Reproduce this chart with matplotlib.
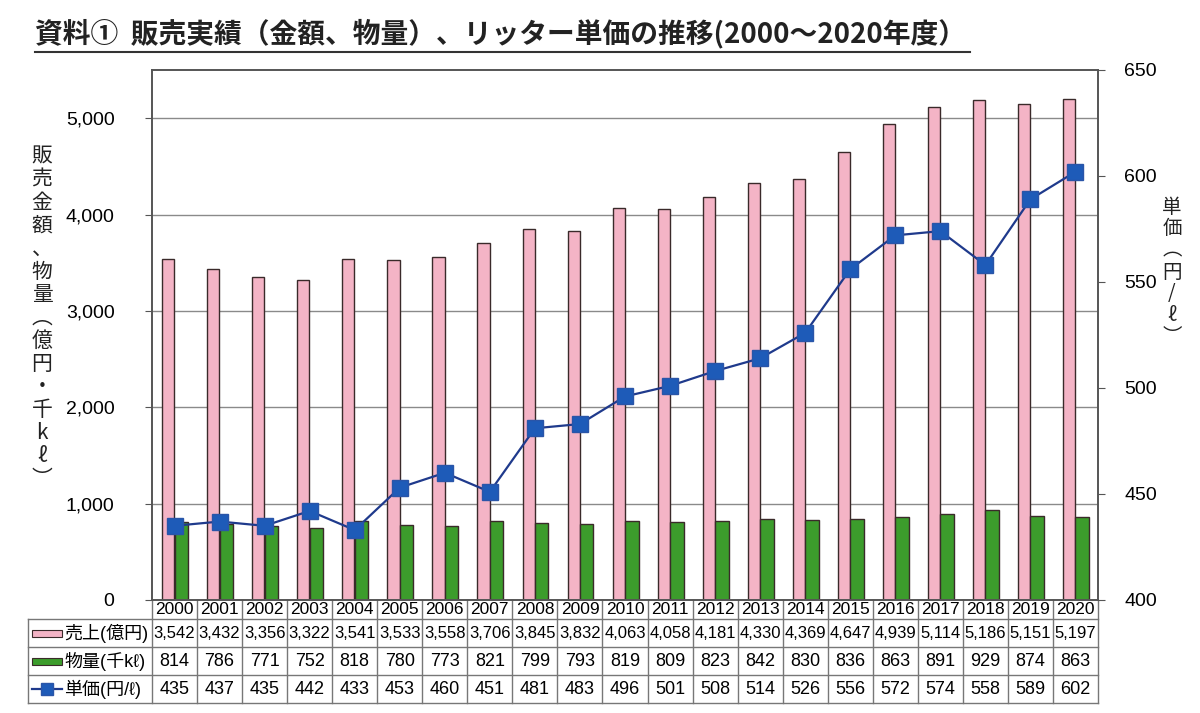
import numpy as np
import matplotlib.pyplot as plt
import matplotlib.transforms as mtransforms
from matplotlib.patches import Rectangle
from matplotlib.lines import Line2D

plt.rcParams['font.family'] = ['Noto Sans CJK JP', 'DejaVu Sans']

years = [str(y) for y in range(2000, 2021)]
sales = [3542, 3432, 3356, 3322, 3541, 3533, 3558, 3706, 3845, 3832, 4063,
         4058, 4181, 4330, 4369, 4647, 4939, 5114, 5186, 5151, 5197]
volume = [814, 786, 771, 752, 818, 780, 773, 821, 799, 793, 819,
          809, 823, 842, 830, 836, 863, 891, 929, 874, 863]
price = [435, 437, 435, 442, 433, 453, 460, 451, 481, 483, 496,
         501, 508, 514, 526, 556, 572, 574, 558, 589, 602]
row_labels = ['売上(億円)', '物量(千kℓ)', '単価(円/ℓ)']
left_ticks = [0, 1000, 2000, 3000, 4000, 5000]
right_ticks = [400, 450, 500, 550, 600, 650]

pink = '#F4B4C6'
green = '#3C9C2C'
blue_face = '#1E5BB8'
blue_line = '#1F3A8C'
edge = '#3A2A2A'
num_font = ['Liberation Sans', 'DejaVu Sans']
num_cjk = ['Liberation Sans', 'Noto Sans CJK JP']

fig = plt.figure(figsize=(12, 7.13), dpi=100)
ax = fig.add_axes([152 / 1200, 1 - 600 / 713, 946 / 1200, 530 / 713])
ax2 = ax.twinx()

x = np.arange(len(years))
ax.bar(x - 0.14, sales, width=0.27, color=pink, edgecolor=edge, linewidth=1.0, zorder=2)
ax.bar(x + 0.15, volume, width=0.30, color=green, edgecolor=edge, linewidth=1.0, zorder=2)
ax2.plot(x, price, color=blue_line, linewidth=1.6, marker='s', markersize=11,
         markerfacecolor=blue_face, markeredgecolor='#2A55A8', zorder=3)

ax.set_xlim(-0.5, len(years) - 0.5)
ax.set_ylim(0, 5500)
ax2.set_ylim(400, 650)
ax.set_xticks([])
ax.set_yticks(left_ticks)
ax.set_yticklabels([f'{v:,}' for v in left_ticks], fontsize=14, family=num_font)
ax2.set_yticks(right_ticks)
ax2.set_yticklabels([str(v) for v in right_ticks], fontsize=14, family=num_font)
ax.yaxis.grid(True, color='#8A8A8A', linewidth=1.0, zorder=0)
ax.set_axisbelow(True)
ax.tick_params(axis='y', length=5, width=0.8, color='#555555', pad=22)
ax2.tick_params(axis='y', length=5, width=0.8, color='#555555', pad=14)
for a in (ax, ax2):
    for s in a.spines.values():
        s.set_color('#555555')
        s.set_linewidth(1.2)

# vertical axis titles (stacked characters)
fig.text(42 / 1200, 1 - 318 / 713, '\n'.join('販売金額、物量︵億円・千kℓ︶'),
         ha='center', va='center', fontsize=15, linespacing=1.06, color='#222222')
fig.text(1172 / 1200, 1 - 272 / 713, '\n'.join('単価︵円/ℓ︶'),
         ha='center', va='center', fontsize=14, linespacing=1.04, color='#222222')

# title with underline
fig.text(35 / 1200, 1 - 34 / 713,
         '資料①  販売実績（金額、物量）、リッター単価の推移(2000～2020年度）',
         ha='left', va='center', fontsize=20, fontweight='bold', color='#222222')
fig.add_artist(Line2D([35 / 1200, 970 / 1200], [1 - 52 / 713, 1 - 52 / 713],
                      color='#333333', linewidth=1.5))

# data table under the plot
trans = mtransforms.blended_transform_factory(ax.transData, ax.transAxes)
ah = 530.0
y_rows = [0, -19 / ah, -47 / ah, -75 / ah, -103 / ah]
lab_left = (28 - 152) / 946.0
tcol = '#777777'
for yb in y_rows[1:]:
    ax.plot([lab_left, 1], [yb, yb], transform=ax.transAxes, color=tcol,
            linewidth=1.0, clip_on=False)
ax.plot([lab_left, lab_left], [y_rows[1], y_rows[-1]], transform=ax.transAxes,
        color=tcol, linewidth=1.0, clip_on=False)
for i in range(len(years) + 1):
    ax.plot([i - 0.5, i - 0.5], [y_rows[0], y_rows[-1]], transform=trans,
            color=tcol, linewidth=1.0, clip_on=False)

for i, yr in enumerate(years):
    ax.text(i, (y_rows[0] + y_rows[1]) / 2, yr, transform=trans, ha='center',
            va='center', fontsize=12.5, family=num_font)
    cells = [f'{sales[i]:,}', str(volume[i]), str(price[i])]
    for r, txt in enumerate(cells):
        ax.text(i, (y_rows[r + 1] + y_rows[r + 2]) / 2, txt, transform=trans,
                ha='center', va='center', fontsize=12 if r == 0 else 13,
                family=num_font)

# row labels with legend keys
key_x0 = (32 - 152) / 946.0
key_w = 30 / 946.0
for r, lab in enumerate(row_labels):
    yc = (y_rows[r + 1] + y_rows[r + 2]) / 2
    ax.text(key_x0 + key_w + 2 / 946.0, yc, lab, transform=ax.transAxes,
            ha='left', va='center', fontsize=13, family=num_cjk)
kh = 7 / ah
for r, col in enumerate([pink, green]):
    yc = (y_rows[r + 1] + y_rows[r + 2]) / 2
    ax.add_patch(Rectangle((key_x0, yc - kh / 2), key_w, kh, transform=ax.transAxes,
                           facecolor=col, edgecolor=edge, linewidth=0.8, clip_on=False))
yc = (y_rows[3] + y_rows[4]) / 2
ax.add_line(Line2D([key_x0, key_x0 + key_w], [yc, yc], transform=ax.transAxes,
                   color=blue_line, linewidth=1.6, clip_on=False))
ax.add_line(Line2D([key_x0 + key_w / 2], [yc], transform=ax.transAxes, marker='s',
                   markersize=8, markerfacecolor=blue_face, markeredgecolor='#2A55A8',
                   clip_on=False))

fig.savefig('out.png', dpi=100)
